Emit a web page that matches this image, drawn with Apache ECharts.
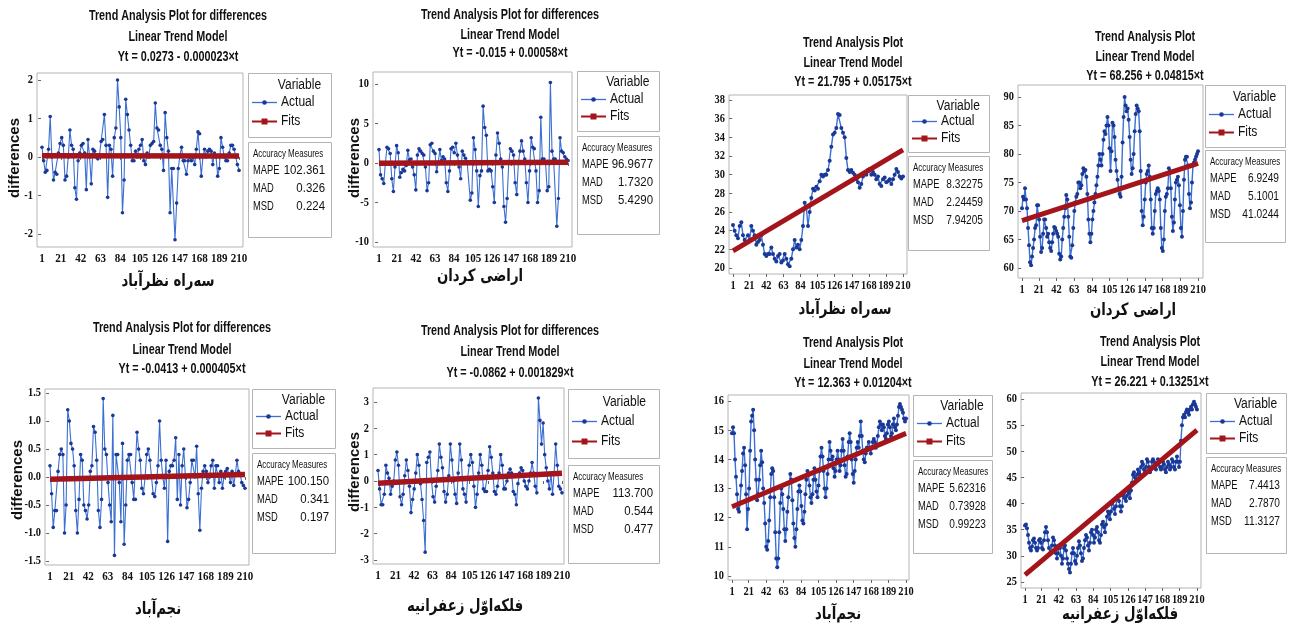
<!DOCTYPE html>
<html>
<head>
<meta charset="utf-8">
<title>Trend Analysis Plots</title>
<script src="https://cdn.jsdelivr.net/npm/echarts/dist/echarts.min.js"></script>
<style>
  html, body { margin: 0; padding: 0; background: #ffffff; }
  #main { width: 1292px; height: 628px; }
</style>
</head>
<body>
<div id="main"></div>
<script>
// ---- data ----------------------------------------------------------------
const timeTicks = [1, 21, 42, 63, 84, 105, 126, 147, 168, 189, 210];
const stationNames = ['سه‌راه نظرآباد', 'اراضی کردان', 'نجم‌آباد', 'فلکه‌اوّل زعفرانیه'];

// first differences of each station series
const sehrahDiff = [0.25,-0.1,-0.4,-0.35,0.2,1.05,0.0,-0.6,-0.4,-0.45,0.1,0.35,0.5,0.3,-0.6,-0.5,0.0,0.7,0.3,0.2,-0.8,-1.1,-0.1,0.1,0.3,0.35,0.1,-0.85,0.45,0.0,-0.7,0.2,0.15,0.0,-0.05,0.05,0.4,0.45,1.1,0.3,-1.05,0.3,0.2,-0.5,0.5,0.75,2.0,1.3,0.5,-1.45,-0.6,1.5,1.1,0.7,0.3,-0.1,-0.1,0.15,0.0,0.2,0.3,0.45,-0.1,-0.2,0.1,0.0,0.3,0.35,0.4,1.4,0.75,0.7,0.3,0.2,-0.35,1.15,0.5,0.15,-1.45,-0.3,-0.3,-2.15,-1.2,-0.3,0.05,0.25,-0.1,-0.1,-0.45,-0.1,0.0,-0.1,0.0,-0.2,0.2,0.65,0.6,-0.5,0.0,0.2,0.0,0.15,0.2,0.15,-0.2,0.1,0.0,-0.5,-0.3,0.5,0.25,0.0,-0.1,-0.1,0.1,0.3,0.3,0.2,0.0,-0.2,-0.35];
const kordanDiff = [1.7,-1.5,-2.0,-2.6,0.0,2.0,1.8,1.2,-2.0,-3.6,-0.5,2.2,1.3,-1.8,-1.2,-0.8,-1.0,-0.3,1.6,0.4,0.5,-0.5,-1.5,-3.4,1.0,1.8,1.5,1.2,1.0,-0.5,-3.5,-2.5,2.3,2.5,1.5,1.2,-1.1,0.0,1.7,0.3,0.8,0.5,-2.5,-3.6,-1.0,1.8,2.0,1.3,2.5,1.0,-0.5,-2.0,1.5,1.0,0.6,0.2,0.0,-4.7,-3.8,3.2,1.7,-1.0,-5.5,-1.6,-1.0,7.2,4.5,3.5,-1.0,-0.8,-1.0,-3.0,-5.0,1.0,3.8,2.5,0.5,-0.5,-5.5,-7.5,-4.5,0.0,1.8,1.5,1.0,-2.5,-4.0,0.0,1.5,2.8,1.5,0.5,-2.5,-5.0,-1.0,3.2,2.0,1.8,-1.0,-5.0,-3.5,5.8,0.5,0.5,0.0,-3.5,-3.0,10.2,1.5,0.5,0.5,-8.0,-4.5,3.2,1.5,1.3,0.8,0.5,0.3];
const najmDiff = [0.2,-0.3,-0.9,-0.6,-0.6,0.1,0.4,0.5,0.4,-1.0,-0.5,1.2,1.0,0.6,0.5,0.2,-0.6,-1.0,-0.4,0.4,0.3,-0.5,-0.6,-0.75,-0.5,0.1,0.2,0.9,0.8,0.3,-0.6,-0.9,-0.4,1.4,0.5,0.4,-0.1,-0.5,-0.8,1.1,-1.4,0.4,0.4,-0.1,-0.8,0.6,-1.2,-0.5,0.3,0.4,0.4,-0.1,-0.4,-0.4,0.8,0.5,0.3,-0.2,-0.3,0.0,0.4,0.5,0.3,0.0,-0.3,-0.35,-0.1,0.2,1.0,0.3,0.0,-0.2,0.3,-1.15,0.1,0.2,0.2,0.3,0.7,-0.4,0.4,-0.5,0.2,0.5,0.0,-0.55,-0.4,-0.1,0.3,0.3,0.0,0.55,-0.3,-0.95,-0.2,0.1,0.2,0.1,-0.1,0.0,0.2,0.3,-0.2,0.2,0.2,-0.1,0.1,-0.2,0.0,0.1,0.15,0.05,-0.1,0.1,-0.15,0.05,0.3,0.1,0.05,-0.1,-0.15,-0.2];
const falakehDiff = [0.4,-0.3,-0.9,-0.9,-0.5,0.6,0.3,0.1,-0.5,-0.2,0.0,0.8,1.1,0.6,-0.6,-0.9,-0.5,0.2,0.8,0.4,-0.2,-1.2,-0.7,-0.3,0.3,1.0,0.6,-0.1,-0.7,-1.5,-2.7,0.7,0.9,1.1,0.0,-0.6,-0.8,-0.2,0.4,1.4,0.9,0.5,-0.4,-0.8,-0.5,0.2,1.4,0.8,0.0,-0.5,-0.85,0.3,1.4,0.8,-0.3,-0.5,-0.8,0.1,0.6,1.0,0.7,-0.2,-1.0,-0.5,0.3,1.0,0.6,-0.3,-0.4,-0.4,0.4,1.3,0.9,0.3,-0.4,-0.5,-0.2,0.3,1.0,0.6,-0.3,-0.3,0.0,0.3,0.45,0.3,-0.4,-0.5,-0.9,-0.1,0.3,0.5,0.4,0.0,-0.2,-0.3,0.0,0.3,0.7,0.3,-0.2,-0.45,3.15,2.3,1.4,2.2,1.0,0.5,0.0,-0.3,0.3,-0.5,0.3,1.4,0.6,-0.2,-0.3,-0.45];

// station series levels
const sehrahLevel = [24.6,24.0,23.5,23.2,24.5,24.9,23.5,23.0,22.8,23.5,23.0,24.5,24.0,23.5,22.5,22.8,23.0,23.5,22.5,21.5,21.3,21.5,21.5,22.2,21.5,21.0,20.7,21.3,21.5,20.6,20.8,21.5,21.0,20.4,20.2,21.0,22.0,23.0,22.2,22.5,22.0,23.0,24.5,27.0,26.5,24.5,26.0,27.5,28.5,28.3,28.7,28.5,29.3,30.0,29.8,30.0,30.0,30.5,31.5,33.0,34.3,34.5,35.0,36.5,36.4,35.0,34.5,34.0,31.8,30.5,30.3,30.5,30.2,30.0,29.5,29.2,28.6,29.0,29.8,30.2,30.0,30.5,30.6,30.0,30.3,30.0,29.5,29.8,29.0,28.8,29.5,29.7,29.2,29.3,29.5,29.0,29.5,30.0,30.6,30.3,29.8,29.6,29.8];
const kordanLevel = [70.5,72.5,72.0,74.0,72.0,70.5,67.0,64.0,61.0,60.5,62.0,63.5,65.0,67.0,67.5,71.0,71.0,68.5,65.5,62.8,63.5,66.0,68.5,68.5,67.0,65.5,66.0,64.5,63.5,63.0,64.5,66.0,67.2,67.0,66.5,66.0,65.5,62.5,61.5,62.0,65.0,67.0,69.0,70.5,72.8,72.0,69.0,65.5,62.0,61.8,64.0,67.0,70.0,71.5,72.5,73.0,75.0,75.0,74.0,74.5,76.5,77.5,77.0,77.2,76.0,73.0,68.5,66.0,64.5,66.0,68.5,70.0,71.5,73.0,74.5,76.0,78.0,80.0,79.0,78.0,80.0,82.5,84.0,83.5,85.0,86.5,85.0,81.0,77.0,80.5,85.5,85.0,83.0,79.0,77.0,75.5,74.0,73.0,72.5,76.0,82.0,86.5,90.0,88.5,87.5,88.0,86.0,83.0,79.0,76.5,77.5,80.0,84.0,87.0,88.5,88.0,87.5,84.0,77.0,70.0,67.5,69.0,72.0,75.0,76.5,77.0,78.0,76.0,72.0,67.0,66.0,67.0,70.0,73.0,73.5,74.0,73.5,72.0,67.0,63.5,63.0,65.0,70.0,72.5,73.0,74.0,77.5,77.0,74.0,69.0,66.5,68.0,72.0,75.0,75.5,76.0,74.5,71.0,67.0,65.5,70.0,75.5,79.0,79.5,79.5,78.0,73.0,70.5,71.5,75.0,78.0,78.5,79.0,79.5,80.0,80.5];
const najmLevel = [14.9,15.1,14.9,14.0,13.4,12.8,12.3,12.2,12.5,13.1,13.6,14.2,14.4,13.8,12.8,11.6,12.3,13.0,14.3,15.3,15.5,15.7,15.0,14.0,13.3,12.6,12.8,13.3,13.8,14.3,13.9,13.0,12.5,11.8,11.0,10.9,11.2,11.9,12.7,13.5,13.7,13.6,12.7,11.5,10.6,10.3,10.6,11.5,12.5,13.0,12.8,12.3,11.6,11.2,11.6,12.2,12.7,13.2,13.5,13.3,12.6,11.8,11.3,11.0,11.6,12.3,12.9,13.1,12.9,12.4,11.9,11.8,12.2,12.8,13.3,13.6,13.5,13.1,12.7,12.5,12.8,13.3,13.7,13.3,12.9,12.7,13.1,13.6,14.1,14.4,14.1,13.6,13.0,12.7,13.0,13.5,14.0,14.6,14.3,14.0,14.1,13.7,13.4,13.6,14.0,14.3,14.0,13.6,13.8,14.3,14.7,14.3,13.8,13.4,13.5,14.1,14.6,14.9,14.6,14.0,13.5,13.2,13.6,14.0,14.4,14.6,14.4,14.8,15.3,14.8,14.3,14.0,13.9,14.2,14.4,14.4,14.6,14.4,14.2,14.4,14.6,14.7,14.6,14.4,14.5,14.8,15.1,15.3,15.2,15.0,15.2,15.1,14.8,14.7,14.9,15.2,15.3,15.1,14.8,14.9,15.2,15.4,15.1,15.0,15.2,15.5,15.8,15.9,15.8,15.7,15.6,15.4,15.3,15.4];
const falakehLevel = [35.8,36.0,35.3,34.0,32.5,31.5,31.0,31.8,33.0,33.3,32.5,31.5,31.0,31.5,33.0,33.2,32.5,31.5,31.2,33.0,34.5,35.5,34.5,33.0,31.5,30.5,30.8,32.0,33.5,33.0,32.0,30.5,29.5,30.5,32.0,31.5,30.0,28.5,29.5,31.5,32.0,31.0,29.5,28.5,27.5,26.8,28.5,30.5,31.5,30.5,29.0,28.5,30.0,31.5,32.8,32.0,30.5,29.0,29.5,31.5,33.0,34.0,33.5,32.0,31.0,32.5,34.5,35.0,34.0,32.5,33.5,35.0,35.5,34.5,33.0,32.5,34.0,36.0,36.5,35.5,34.5,36.0,37.5,38.5,38.0,37.0,38.5,40.0,40.5,39.0,38.0,39.5,41.0,41.5,40.5,39.5,38.5,39.5,41.5,42.0,41.0,40.5,41.5,42.5,42.0,41.0,42.5,44.0,45.5,46.0,45.0,44.5,45.5,46.5,46.0,45.5,47.0,48.0,47.5,46.5,46.0,47.0,48.5,48.0,47.0,46.0,46.5,48.0,48.5,48.0,47.0,46.5,47.5,48.5,48.0,47.0,46.5,47.0,48.0,47.5,46.5,46.0,47.0,48.0,47.5,46.5,47.0,48.5,48.0,47.0,46.5,48.0,49.0,48.0,47.0,48.0,52.0,55.0,56.5,57.0,56.5,57.5,58.0,57.5,57.0,58.0,58.5,58.0,59.0,59.5,59.0,58.5,58.0];

// linear trend coefficients (Yt = a + b*t), panel order
const trendIntercepts = [0.0273, -0.015, 21.795, 68.256, -0.0413, -0.0862, 12.363, 26.221];
const trendSlopes = [-0.000023, 0.00058, 0.05175, 0.04815, 0.000405, 0.001829, 0.01204, 0.13251];
const equationLabels = [
  'Yt = 0.0273 - 0.000023×t', 'Yt = -0.015 + 0.00058×t',
  'Yt = 21.795 + 0.05175×t', 'Yt = 68.256 + 0.04815×t',
  'Yt = -0.0413 + 0.000405×t', 'Yt = -0.0862 + 0.001829×t',
  'Yt = 12.363 + 0.01204×t', 'Yt = 26.221 + 0.13251×t'
];
const plotHeadings = [
  'Trend Analysis Plot for differences', 'Trend Analysis Plot for differences',
  'Trend Analysis Plot', 'Trend Analysis Plot',
  'Trend Analysis Plot for differences', 'Trend Analysis Plot for differences',
  'Trend Analysis Plot', 'Trend Analysis Plot'
];
const modelLabel = 'Linear Trend Model';
const mapeValues = ['102.361', '96.9677', '8.32275', '6.9249', '100.150', '113.700', '5.62316', '7.4413'];
const madValues  = ['0.326', '1.7320', '2.24459', '5.1001', '0.341', '0.544', '0.73928', '2.7870'];
const msdValues  = ['0.224', '5.4290', '7.94205', '41.0244', '0.197', '0.477', '0.99223', '11.3127'];
const yTickSets = [
  [-2, -1, 0, 1, 2],
  [-10, -5, 0, 5, 10],
  [20, 22, 24, 26, 28, 30, 32, 34, 36, 38],
  [60, 65, 70, 75, 80, 85, 90],
  [-1.5, -1.0, -0.5, 0.0, 0.5, 1.0, 1.5],
  [-3, -2, -1, 0, 1, 2, 3],
  [10, 11, 12, 13, 14, 15, 16],
  [25, 30, 35, 40, 45, 50, 55, 60]
];
const panelValues = [sehrahDiff, kordanDiff, sehrahLevel, kordanLevel, najmDiff, falakehDiff, najmLevel, falakehLevel];
const panelStation = [0, 1, 0, 1, 2, 3, 2, 3];
const panelIsDiff = [true, true, false, false, true, true, false, false];

// ---- layout (pixels) -----------------------------------------------------
const layout = [
  {g:[37,73,206,174],  xr:[-4.3,214.2],  yr:[-2.34,2.18],   dec:0, leg:[248,73,83,64],   acc:[248,142,83,95],  tc:178,  ty:[16,37,57],    xt:[168,282],  yt:[15,158]},
  {g:[373,72,199,175], xr:[-5.6,214.4],  yr:[-10.63,11.52], dec:0, leg:[577,71,82,60],   acc:[577,136,82,98],  tc:510,  ty:[15,35,53],    xt:[480,277],  yt:[355,158]},
  {g:[729,95,178,179], xr:[-3.9,214.9],  yr:[19.36,38.54],  dec:0, leg:[908,95,81,57],   acc:[908,156,81,94],  tc:853,  ty:[43,63,82],    xt:[845,310]},
  {g:[1018,85,185,193],xr:[-3.75,215.9], yr:[58.25,92.1],   dec:0, leg:[1205,85,80,62],  acc:[1205,150,80,92], tc:1145, ty:[37,57,76],    xt:[1133,311]},
  {g:[45,389,204,176], xr:[-4.36,214.3], yr:[-1.571,1.571], dec:1, leg:[252,389,83,59],  acc:[252,453,83,100], tc:182,  ty:[328,350,369], xt:[158,610],  yt:[18,480]},
  {g:[373,388,191,176],xr:[-4.7,212.3],  yr:[-3.15,3.53],   dec:0, leg:[568,389,91,69],  acc:[568,465,91,98],  tc:510,  ty:[331,352,373], xt:[465,607],  yt:[355,472]},
  {g:[728,395,181,185],xr:[-3.8,213.6],  yr:[9.86,16.21],   dec:0, leg:[913,395,79,61],  acc:[913,460,79,93],  tc:853,  ty:[343,364,383], xt:[838,615]},
  {g:[1021,393,180,195],xr:[-3.86,214.9],yr:[23.85,61.15],  dec:0, leg:[1206,393,80,60], acc:[1206,457,80,96], tc:1150, ty:[342,362,382], xt:[1120,615]}
];

const SANS = "'Liberation Sans', Arial, sans-serif";
const SERIF = "'Liberation Serif', 'Times New Roman', serif";
const PERSIAN = "'DejaVu Sans', sans-serif";
const BLUE_LINE = '#3b6fd2';
const BLUE_DOT = '#1a3896';
const RED = '#a3141b';
const BOX = '#b4b4b4';

// text element anchored at (x, y); sx < 1 narrows the glyphs around that anchor
function txt(x, y, text, font, align, sx, extra) {
  return Object.assign({
    type: 'text', x: x, y: y, silent: true, z: 10,
    scaleX: sx || 1, originX: 0, originY: 0,
    style: { text: text, font: font, fill: '#111', textAlign: align, textVerticalAlign: 'middle', align: align, verticalAlign: 'middle' }
  }, extra || {});
}
function box(r) {
  return { type: 'rect', silent: true, shape: { x: r[0] + 0.5, y: r[1] + 0.5, width: r[2], height: r[3] },
           style: { fill: '#fff', stroke: BOX, lineWidth: 1 } };
}

const grids = [], xAxes = [], yAxes = [], series = [];

layout.forEach((p, i) => {
  grids.push({ left: p.g[0], top: p.g[1], width: p.g[2], height: p.g[3], show: true,
               borderColor: BOX, borderWidth: 1, backgroundColor: '#fff' });
  xAxes.push({
    type: 'value', gridIndex: i, min: p.xr[0], max: p.xr[1],
    axisLine: { show: false }, splitLine: { show: false }, axisLabel: { show: false },
    axisTick: { show: true, length: 3, lineStyle: { color: '#666' }, customValues: timeTicks }
  });
  yAxes.push({
    type: 'value', gridIndex: i, min: p.yr[0], max: p.yr[1],
    axisLine: { show: false }, splitLine: { show: false }, axisLabel: { show: false },
    axisTick: { show: true, length: 3, lineStyle: { color: '#666' }, customValues: yTickSets[i] }
  });

  const vals = panelValues[i];
  const n = vals.length;
  const diff = panelIsDiff[i];
  series.push({
    name: 'Actual', type: 'line', xAxisIndex: i, yAxisIndex: i, z: 2,
    data: vals.map((v, k) => [1 + k * 209 / (n - 1), v]),
    symbol: 'circle', symbolSize: diff ? 3.6 : 4, showSymbol: true,
    lineStyle: { color: BLUE_LINE, width: diff ? 1.1 : 1.4 }, itemStyle: { color: BLUE_DOT },
    silent: true, animation: false
  });
  const a = trendIntercepts[i], b = trendSlopes[i];
  series.push({
    name: 'Fits', type: 'line', xAxisIndex: i, yAxisIndex: i, z: 3,
    data: [[1, a + b * 1], [210, a + b * 210]],
    symbol: 'none', lineStyle: { color: RED, width: diff ? 5.5 : 5 },
    silent: true, animation: false
  });
});

const chart = echarts.init(document.getElementById('main'), null, { renderer: 'canvas' });
chart.setOption({
  animation: false,
  backgroundColor: '#ffffff',
  grid: grids, xAxis: xAxes, yAxis: yAxes, series: series
});

// ---- annotations: tick labels placed through the axis scales, headings, legends
const graphics = [];
layout.forEach((p, i) => {
  const diff = panelIsDiff[i];
  const bottom = p.g[1] + p.g[3];
  timeTicks.forEach(t => {
    const px = chart.convertToPixel({ xAxisIndex: i }, t);
    graphics.push(txt(px, bottom + 12, String(t), 'bold 13px ' + SERIF, 'center', diff ? 0.85 : 0.8));
  });
  yTickSets[i].forEach(v => {
    const py = chart.convertToPixel({ yAxisIndex: i }, v);
    graphics.push(txt(p.g[0] - 4, py, p.dec ? v.toFixed(1) : String(v), 'bold 13px ' + SERIF, 'right', 0.8));
  });

  // headings
  [plotHeadings[i], modelLabel, equationLabels[i]].forEach((s, k) => {
    graphics.push(txt(p.tc, p.ty[k], s, 'bold 15px ' + SANS, 'center', 0.72));
  });

  // station name under the time axis
  graphics.push(txt(p.xt[0], p.xt[1], stationNames[panelStation[i]], 'bold 17px ' + PERSIAN, 'center', 0.78));

  // vertical axis name for the differenced panels
  if (p.yt) {
    graphics.push(txt(p.yt[0], p.yt[1], 'differences', 'bold 15px ' + SANS, 'center', 1, { rotation: Math.PI / 2 }));
  }

  // legend box
  const L = p.leg;
  graphics.push(box(L));
  graphics.push(txt(L[0] + L[2] * 0.62, L[1] + L[3] * 0.19, 'Variable', '14px ' + SANS, 'center', 0.86));
  [[0.46, 'Actual', BLUE_LINE, BLUE_DOT, 'circle'], [0.75, 'Fits', RED, RED, 'rect']].forEach(r => {
    const y = Math.round(L[1] + L[3] * r[0]) + 0.5;
    graphics.push({ type: 'line', silent: true, z: 10, shape: { x1: L[0] + 4, y1: y, x2: L[0] + 29, y2: y },
                    style: { stroke: r[2], lineWidth: r[4] === 'rect' ? 2 : 1.3 } });
    if (r[4] === 'circle') {
      graphics.push({ type: 'circle', silent: true, z: 10, shape: { cx: L[0] + 16.5, cy: y, r: 2.3 }, style: { fill: r[3] } });
    } else {
      graphics.push({ type: 'rect', silent: true, z: 10, shape: { x: L[0] + 13.5, y: y - 3, width: 6, height: 6 }, style: { fill: r[3] } });
    }
    graphics.push(txt(L[0] + 33, y, r[1], '14px ' + SANS, 'left', 0.86));
  });

  // accuracy measures box
  const A = p.acc;
  graphics.push(box(A));
  graphics.push(txt(A[0] + 5, A[1] + 12, 'Accuracy Measures', '10px ' + SANS, 'left', 0.8));
  [['MAPE', mapeValues[i], 28], ['MAD', madValues[i], 46], ['MSD', msdValues[i], 64]].forEach(r => {
    const narrowBox = A[2] < 82;
    graphics.push(txt(A[0] + 5, A[1] + r[2], r[0], '13px ' + SANS, 'left', 0.72));
    graphics.push(txt(A[0] + A[2] - 6, A[1] + r[2], r[1], '13px ' + SANS, 'right', narrowBox ? 0.78 : 0.88));
  });
});
chart.setOption({ graphic: { elements: graphics } });
</script>
</body>
</html>
